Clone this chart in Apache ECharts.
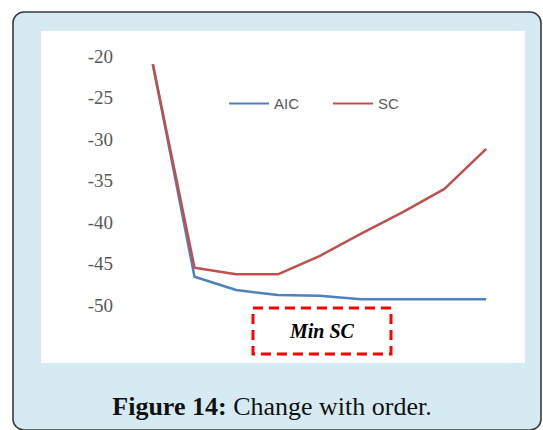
<!DOCTYPE html>
<html>
<head>
<meta charset="utf-8">
<script src="https://cdn.jsdelivr.net/npm/echarts@6/dist/echarts.min.js"></script>
<style>
  html, body { margin: 0; padding: 0; background: #fff; }
  #chart { width: 543px; height: 430px; }
</style>
</head>
<body>
<div id="chart"></div>
<script>
// model order 1..9
var orders = ['1', '2', '3', '4', '5', '6', '7', '8', '9']
var aic = [-21.0, -46.6, -48.2, -48.8, -48.9, -49.3, -49.3, -49.3, -49.3]
var sc = [-21.0, -45.5, -46.3, -46.3, -44.1, -41.4, -38.8, -36.0, -31.2]
var yTicks = [-50, -45, -40, -35, -30, -25, -20]

var myChart = echarts.init(document.getElementById('chart'), null, { renderer: 'svg' })

myChart.setOption({
  animation: false,
  graphic: [
    // panel background + border
    {
      type: 'rect', z: -10, silent: true,
      shape: { x: 13, y: 12, width: 528, height: 418, r: 11 },
      style: { fill: '#d6ebf1', stroke: '#3a3a3a', lineWidth: 1.6 }
    },
    // white chart area
    {
      type: 'rect', z: -9, silent: true,
      shape: { x: 41, y: 31, width: 484, height: 332 },
      style: { fill: '#ffffff' }
    },
    // Min SC annotation
    {
      type: 'rect', z: 10, silent: true,
      shape: { x: 253, y: 308, width: 138, height: 46 },
      style: { fill: 'none', stroke: '#ff0000', lineWidth: 3, lineDash: [10, 6] }
    },
    {
      type: 'text', z: 11, silent: true,
      x: 322, y: 331,
      style: {
        text: 'Min SC', fill: '#000',
        font: 'italic bold 20px "Liberation Serif"',
        align: 'center', verticalAlign: 'middle'
      }
    },
    // caption
    {
      type: 'text', z: 11, silent: true,
      x: 272, y: 406,
      style: {
        text: '{b|Figure 14:} Change with order.',
        fill: '#111',
        font: '26px "Liberation Serif"',
        align: 'center', verticalAlign: 'middle',
        rich: {
          b: { fontWeight: 'bold', fontSize: 26, fontFamily: 'Liberation Serif', fill: '#111' }
        }
      }
    }
  ],
  legend: {
    left: 224,
    top: 91,
    icon: 'rect',
    itemWidth: 40,
    itemHeight: 2,
    itemGap: 34,
    textStyle: { color: '#595959', fontSize: 15, fontFamily: 'Liberation Sans' },
    data: ['AIC', 'SC']
  },
  grid: {
    left: 132,
    right: 36,
    top: 56,
    bottom: 125
  },
  xAxis: {
    type: 'category',
    boundaryGap: true,
    data: orders,
    show: false
  },
  yAxis: {
    type: 'value',
    min: yTicks[0],
    max: yTicks[yTicks.length - 1],
    interval: 5,
    axisLine: { show: false },
    axisTick: { show: false },
    splitLine: { show: false },
    axisLabel: {
      color: '#595959',
      fontSize: 19,
      fontFamily: 'Liberation Serif',
      margin: 19
    }
  },
  series: [
    {
      name: 'AIC',
      type: 'line',
      data: aic,
      showSymbol: false,
      color: '#4f81bd',
      lineStyle: { width: 2.5, color: '#4f81bd' }
    },
    {
      name: 'SC',
      type: 'line',
      data: sc,
      showSymbol: false,
      color: '#c0504d',
      lineStyle: { width: 2.5, color: '#c0504d' }
    }
  ]
})
</script>
</body>
</html>
